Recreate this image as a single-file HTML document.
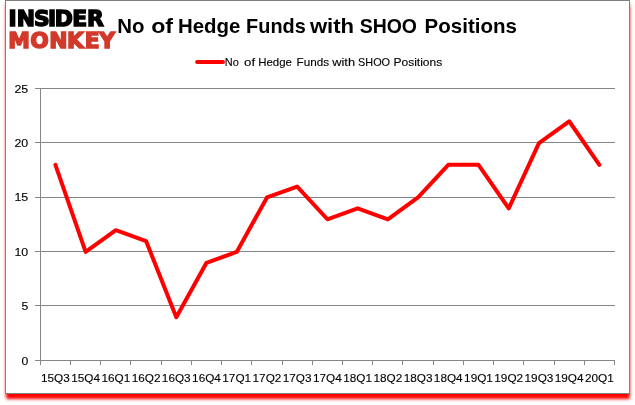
<!DOCTYPE html>
<html><head><meta charset="utf-8"><title>No of Hedge Funds with SHOO Positions</title>
<style>
html,body{margin:0;padding:0;background:#fff;}
body{width:635px;height:405px;position:relative;overflow:hidden;font-family:"Liberation Sans",sans-serif;}
#frame{position:absolute;left:5px;top:0;width:623px;height:392px;border:1px solid #808080;background:#fff;box-shadow:0 5.5px 3px -0.5px #ff0000, 0 3px 3px 0 rgba(255,0,0,.35);}
svg{position:absolute;left:0;top:0;}
text{font-family:"Liberation Sans",sans-serif;}
.ax text,.lg{font-size:11.6px;fill:#000;stroke:#000;stroke-width:.12px;}
.logo text{font-family:"DejaVu Sans","Liberation Sans",sans-serif;}
.grid line,.ticks line{stroke:#868686;stroke-width:1;shape-rendering:crispEdges;}
</style></head><body>
<div id="frame"></div>
<svg width="635" height="405" viewBox="0 0 635 405">
<g class="logo" font-weight="bold" font-size="21.8" stroke-width="1.5">
<text x="8.60 16.78 34.01 47.90 54.67 72.35 87.12" y="25.8" fill="#000" stroke="#000">INSIDER</text>
<text x="8.20 30.23 49.13 67.12 84.85 99.36" y="48.1" fill="#d2392a" stroke="#d2392a">MONKEY</text>
</g>
<text y="32.5" font-size="20.2" font-weight="bold"><tspan x="117.3" textLength="27.2" lengthAdjust="spacingAndGlyphs">No</tspan> <tspan x="151.2" textLength="21.9" lengthAdjust="spacingAndGlyphs">of</tspan> <tspan x="178.0" textLength="62.4" lengthAdjust="spacingAndGlyphs">Hedge</tspan> <tspan x="246.1" textLength="59.7" lengthAdjust="spacingAndGlyphs">Funds</tspan> <tspan x="309.9" textLength="44.2" lengthAdjust="spacingAndGlyphs">with</tspan> <tspan x="359.7" textLength="57.3" lengthAdjust="spacingAndGlyphs">SHOO</tspan> <tspan x="424.6" textLength="92.4" lengthAdjust="spacingAndGlyphs">Positions</tspan></text>
<line x1="197.1" x2="223" y1="61.9" y2="61.9" stroke="#ff0000" stroke-width="4" stroke-linecap="round"/>
<text y="66" class="lg"><tspan x="224.8" textLength="14.0" lengthAdjust="spacingAndGlyphs">No</tspan> <tspan x="244.1" textLength="11.1" lengthAdjust="spacingAndGlyphs">of</tspan> <tspan x="258.2" textLength="33.8" lengthAdjust="spacingAndGlyphs">Hedge</tspan> <tspan x="296.6" textLength="32.6" lengthAdjust="spacingAndGlyphs">Funds</tspan> <tspan x="332.2" textLength="22.9" lengthAdjust="spacingAndGlyphs">with</tspan> <tspan x="358.0" textLength="32.1" lengthAdjust="spacingAndGlyphs">SHOO</tspan> <tspan x="393.5" textLength="48.7" lengthAdjust="spacingAndGlyphs">Positions</tspan></text>
<g class="grid"><line x1="35" x2="615.0" y1="360.5" y2="360.5"/><line x1="35" x2="615.0" y1="305.5" y2="305.5"/><line x1="35" x2="615.0" y1="251.5" y2="251.5"/><line x1="35" x2="615.0" y1="197.5" y2="197.5"/><line x1="35" x2="615.0" y1="142.5" y2="142.5"/><line x1="35" x2="615.0" y1="88.5" y2="88.5"/><line x1="40.5" x2="40.5" y1="88" y2="361"/></g>
<g class="ticks"><line x1="40.5" x2="40.5" y1="360" y2="365"/><line x1="70.5" x2="70.5" y1="360" y2="365"/><line x1="100.5" x2="100.5" y1="360" y2="365"/><line x1="130.5" x2="130.5" y1="360" y2="365"/><line x1="161.5" x2="161.5" y1="360" y2="365"/><line x1="191.5" x2="191.5" y1="360" y2="365"/><line x1="221.5" x2="221.5" y1="360" y2="365"/><line x1="251.5" x2="251.5" y1="360" y2="365"/><line x1="282.5" x2="282.5" y1="360" y2="365"/><line x1="312.5" x2="312.5" y1="360" y2="365"/><line x1="342.5" x2="342.5" y1="360" y2="365"/><line x1="372.5" x2="372.5" y1="360" y2="365"/><line x1="402.5" x2="402.5" y1="360" y2="365"/><line x1="433.5" x2="433.5" y1="360" y2="365"/><line x1="463.5" x2="463.5" y1="360" y2="365"/><line x1="493.5" x2="493.5" y1="360" y2="365"/><line x1="523.5" x2="523.5" y1="360" y2="365"/><line x1="554.5" x2="554.5" y1="360" y2="365"/><line x1="584.5" x2="584.5" y1="360" y2="365"/><line x1="614.5" x2="614.5" y1="360" y2="365"/></g>
<g class="ax"><text x="28.2" y="364.6" text-anchor="end" textLength="6.8" lengthAdjust="spacingAndGlyphs">0</text><text x="28.2" y="309.6" text-anchor="end" textLength="6.8" lengthAdjust="spacingAndGlyphs">5</text><text x="28.2" y="255.6" text-anchor="end" textLength="13.8" lengthAdjust="spacingAndGlyphs">10</text><text x="28.2" y="200.6" text-anchor="end" textLength="13.8" lengthAdjust="spacingAndGlyphs">15</text><text x="28.2" y="146.6" text-anchor="end" textLength="13.8" lengthAdjust="spacingAndGlyphs">20</text><text x="28.2" y="92.6" text-anchor="end" textLength="13.8" lengthAdjust="spacingAndGlyphs">25</text><text x="55.41" y="382" text-anchor="middle" textLength="28.8" lengthAdjust="spacingAndGlyphs">15Q3</text><text x="85.63" y="382" text-anchor="middle" textLength="28.8" lengthAdjust="spacingAndGlyphs">15Q4</text><text x="115.85" y="382" text-anchor="middle" textLength="28.8" lengthAdjust="spacingAndGlyphs">16Q1</text><text x="146.07" y="382" text-anchor="middle" textLength="28.8" lengthAdjust="spacingAndGlyphs">16Q2</text><text x="176.29" y="382" text-anchor="middle" textLength="28.8" lengthAdjust="spacingAndGlyphs">16Q3</text><text x="206.52" y="382" text-anchor="middle" textLength="28.8" lengthAdjust="spacingAndGlyphs">16Q4</text><text x="236.74" y="382" text-anchor="middle" textLength="28.8" lengthAdjust="spacingAndGlyphs">17Q1</text><text x="266.96" y="382" text-anchor="middle" textLength="28.8" lengthAdjust="spacingAndGlyphs">17Q2</text><text x="297.18" y="382" text-anchor="middle" textLength="28.8" lengthAdjust="spacingAndGlyphs">17Q3</text><text x="327.40" y="382" text-anchor="middle" textLength="28.8" lengthAdjust="spacingAndGlyphs">17Q4</text><text x="357.62" y="382" text-anchor="middle" textLength="28.8" lengthAdjust="spacingAndGlyphs">18Q1</text><text x="387.84" y="382" text-anchor="middle" textLength="28.8" lengthAdjust="spacingAndGlyphs">18Q2</text><text x="418.06" y="382" text-anchor="middle" textLength="28.8" lengthAdjust="spacingAndGlyphs">18Q3</text><text x="448.28" y="382" text-anchor="middle" textLength="28.8" lengthAdjust="spacingAndGlyphs">18Q4</text><text x="478.51" y="382" text-anchor="middle" textLength="28.8" lengthAdjust="spacingAndGlyphs">19Q1</text><text x="508.73" y="382" text-anchor="middle" textLength="28.8" lengthAdjust="spacingAndGlyphs">19Q2</text><text x="538.95" y="382" text-anchor="middle" textLength="28.8" lengthAdjust="spacingAndGlyphs">19Q3</text><text x="569.17" y="382" text-anchor="middle" textLength="28.8" lengthAdjust="spacingAndGlyphs">19Q4</text><text x="599.39" y="382" text-anchor="middle" textLength="28.8" lengthAdjust="spacingAndGlyphs">20Q1</text></g>
<polyline points="55.41,164.82 85.63,251.92 115.85,230.14 146.07,241.03 176.29,317.25 206.52,262.81 236.74,251.92 266.96,197.48 297.18,186.59 327.40,219.26 357.62,208.37 387.84,219.26 418.06,197.48 448.28,164.82 478.51,164.82 508.73,208.37 538.95,143.04 569.17,121.26 599.39,164.82" fill="none" stroke="#ff0000" stroke-width="4" stroke-linejoin="round" stroke-linecap="round"/>
</svg>
</body></html>
